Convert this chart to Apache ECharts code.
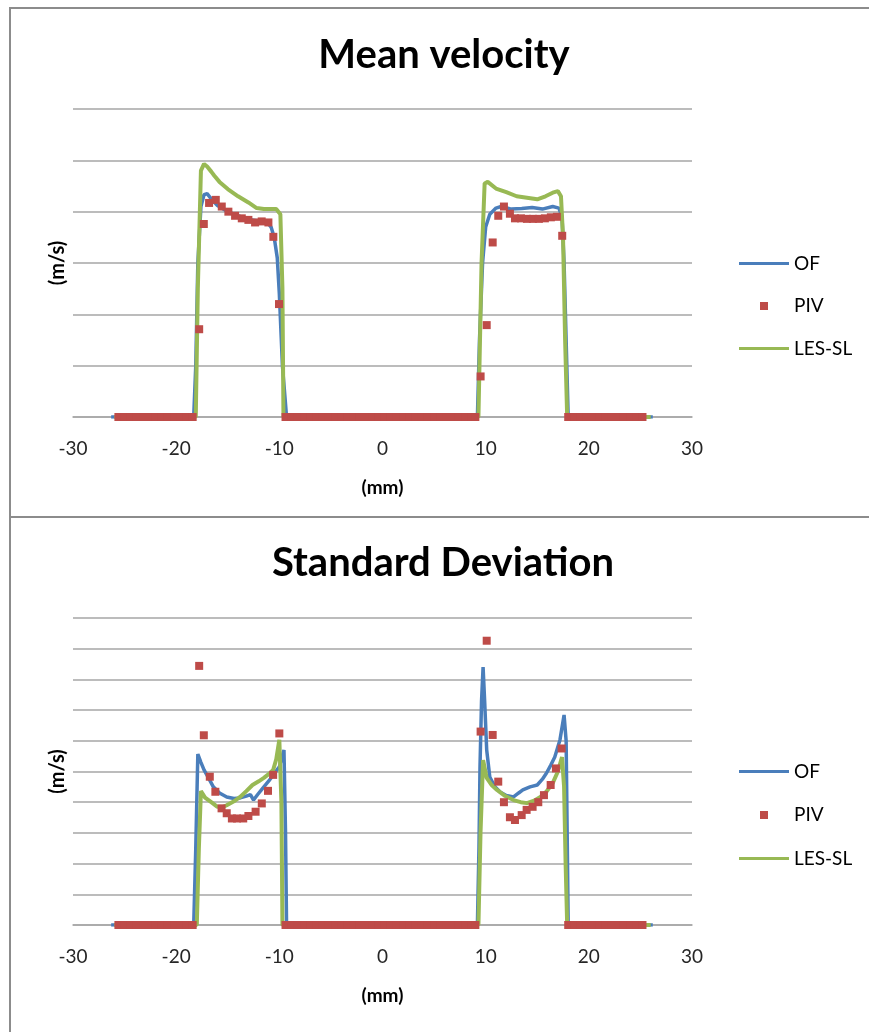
<!DOCTYPE html>
<html>
<head>
<meta charset="utf-8">
<script src="https://cdn.jsdelivr.net/npm/echarts@6/dist/echarts.min.js"></script>
<style>
html,body{margin:0;padding:0;background:#fff;}
#c{width:869px;height:1032px;}
</style>
</head>
<body>
<div id="c"></div>
<script>
// ---------- data ----------
const xTicks = [-30, -20, -10, 0, 10, 20, 30];
const titles = ['Mean velocity', 'Standard Deviation'];
const seriesNames = ['OF', 'PIV', 'LES-SL'];

// Mean velocity (units = gridline steps)
const ofMean = [[-26.3,0],[-18.3,0],[-18.1,1.0],[-17.9,3.0],[-17.6,4.1],[-17.3,4.33],[-17.0,4.35],[-16.6,4.25],[-16.0,4.12],[-15.0,4.0],[-14.0,3.92],[-13.0,3.85],[-12.0,3.82],[-11.2,3.8],[-10.8,3.7],[-10.5,3.5],[-10.2,3.1],[-10.0,2.4],[-9.7,1.0],[-9.3,0],[9.2,0],[9.4,1.5],[9.7,3.0],[10.0,3.7],[10.4,3.95],[11.0,4.07],[11.5,4.1],[12.5,4.05],[13.5,4.06],[14.5,4.08],[15.5,4.05],[16.5,4.1],[17.1,4.07],[17.4,3.9],[17.6,3.0],[17.8,1.5],[18.0,0],[26.2,0]];
const lesMean = [[-26,0],[-18.1,0],[-17.9,2.5],[-17.6,4.8],[-17.3,4.93],[-17.0,4.88],[-16.6,4.78],[-16.3,4.7],[-15.8,4.58],[-15.0,4.44],[-14.0,4.3],[-13.0,4.18],[-12.2,4.07],[-11.5,4.05],[-10.3,4.05],[-9.9,3.95],[-9.7,2.5],[-9.6,0],[9.3,0],[9.6,3.0],[9.9,4.55],[10.2,4.58],[11.0,4.45],[12.0,4.38],[13.0,4.3],[14.0,4.27],[15.0,4.24],[15.8,4.3],[16.5,4.37],[17.0,4.4],[17.3,4.3],[17.5,3.5],[17.7,1.5],[17.9,0],[26,0]];
const pivMean = [[-25.6,0],[-25.0,0],[-24.4,0],[-23.8,0],[-23.2,0],[-22.6,0],[-22.0,0],[-21.4,0],[-20.8,0],[-20.2,0],[-19.6,0],[-19.0,0],[-18.4,0],
[-17.77,1.71],[-17.32,3.76],[-16.81,4.17],[-16.16,4.23],[-15.58,4.10],[-14.94,4.0],[-14.29,3.92],[-13.64,3.87],[-13.0,3.84],[-12.35,3.79],[-11.71,3.81],[-11.06,3.79],[-10.58,3.51],[-10.03,2.20],
[-9.4,0],[-8.8,0],[-8.2,0],[-7.6,0],[-7.0,0],[-6.4,0],[-5.8,0],[-5.2,0],[-4.6,0],[-4.0,0],[-3.4,0],[-2.8,0],[-2.2,0],[-1.6,0],[-1.0,0],[-0.4,0],[0.2,0],[0.8,0],[1.4,0],[2.0,0],[2.6,0],[3.2,0],[3.8,0],[4.4,0],[5.0,0],[5.6,0],[6.2,0],[6.8,0],[7.4,0],[8.0,0],[8.6,0],[9.0,0],
[9.51,0.79],[10.1,1.79],[10.68,3.40],[11.22,3.92],[11.77,4.10],[12.35,3.96],[12.84,3.87],[13.42,3.87],[14.0,3.86],[14.58,3.86],[15.16,3.86],[15.74,3.87],[16.32,3.89],[16.9,3.9],[17.42,3.53],
[18.0,0],[18.6,0],[19.2,0],[19.8,0],[20.4,0],[21.0,0],[21.6,0],[22.2,0],[22.8,0],[23.4,0],[24.0,0],[24.6,0],[25.2,0]];

// Standard deviation (units = gridline steps)
const ofStd = [[-26.3,0],[-18.3,0],[-18.1,2.5],[-17.9,5.57],[-17.6,5.3],[-17.3,5.05],[-16.8,4.75],[-16.4,4.5],[-15.8,4.3],[-15.1,4.17],[-14.4,4.12],[-13.8,4.14],[-13.2,4.2],[-12.8,4.25],[-12.5,4.07],[-12.1,4.25],[-11.6,4.46],[-11.0,4.7],[-10.6,4.89],[-10.0,5.15],[-9.55,5.7],[-9.4,3.0],[-9.3,0],
[9.2,0],[9.35,2.5],[9.45,5.15],[9.6,7.3],[9.75,8.4],[9.9,7.3],[10.1,5.7],[10.4,4.82],[10.9,4.5],[11.4,4.33],[12.0,4.22],[12.7,4.17],[13.2,4.3],[13.6,4.4],[14.3,4.5],[15.0,4.56],[15.5,4.75],[15.9,4.95],[16.3,5.2],[16.7,5.47],[17.2,6.03],[17.6,6.84],[17.8,6.0],[17.9,3.0],[18.0,0],[26.2,0]];
const lesStd = [[-26,0],[-18.0,0],[-17.8,2.5],[-17.6,4.36],[-17.2,4.15],[-16.6,4.0],[-16.0,3.85],[-15.5,3.84],[-15.1,3.9],[-14.4,4.03],[-13.8,4.17],[-13.2,4.36],[-12.6,4.56],[-12.0,4.68],[-11.5,4.79],[-11.0,4.92],[-10.6,5.05],[-10.3,5.4],[-10.0,6.03],[-9.8,4.0],[-9.7,0],
[9.3,0],[9.5,3.0],[9.75,5.37],[10.1,4.79],[10.6,4.55],[11.1,4.4],[11.9,4.2],[12.7,4.07],[13.4,4.0],[14.0,3.97],[14.7,4.05],[15.3,4.17],[15.9,4.35],[16.5,4.62],[17.0,5.0],[17.4,5.47],[17.6,4.5],[17.75,2.0],[17.9,0],[26,0]];
const pivStd = [[-25.6,0],[-25.0,0],[-24.4,0],[-23.8,0],[-23.2,0],[-22.6,0],[-22.0,0],[-21.4,0],[-20.8,0],[-20.2,0],[-19.6,0],[-19.0,0],[-18.4,0],
[-17.77,8.44],[-17.32,6.18],[-16.74,4.83],[-16.2,4.34],[-15.6,3.80],[-15.1,3.64],[-14.6,3.47],[-14.1,3.47],[-13.5,3.47],[-13.0,3.55],[-12.3,3.69],[-11.7,3.96],[-11.1,4.37],[-10.6,4.89],[-10.0,6.24],
[-9.4,0],[-8.8,0],[-8.2,0],[-7.6,0],[-7.0,0],[-6.4,0],[-5.8,0],[-5.2,0],[-4.6,0],[-4.0,0],[-3.4,0],[-2.8,0],[-2.2,0],[-1.6,0],[-1.0,0],[-0.4,0],[0.2,0],[0.8,0],[1.4,0],[2.0,0],[2.6,0],[3.2,0],[3.8,0],[4.4,0],[5.0,0],[5.6,0],[6.2,0],[6.8,0],[7.4,0],[8.0,0],[8.6,0],[9.0,0],
[9.51,6.30],[10.1,9.26],[10.68,6.19],[11.22,4.67],[11.77,4.0],[12.35,3.51],[12.84,3.42],[13.49,3.58],[13.97,3.75],[14.55,3.85],[15.1,4.0],[15.65,4.23],[16.3,4.56],[16.81,5.1],[17.36,5.75],
[18.0,0],[18.6,0],[19.2,0],[19.8,0],[20.4,0],[21.0,0],[21.6,0],[22.2,0],[22.8,0],[23.4,0],[24.0,0],[24.6,0],[25.2,0]];

// ---------- style ----------
const BLUE = '#4A7EBB', RED = '#BE4B48', GREEN = '#98B954';
const GRID = '#A6A6A6';
const FONT = 'Lato, "Open Sans", sans-serif';

const chart = echarts.init(document.getElementById('c'), null, {renderer: 'canvas'});

function xAxisCfg(gi) {
  return {
    type: 'value', gridIndex: gi, min: xTicks[0], max: xTicks[xTicks.length-1], interval: 10,
    axisLine: {show: true, onZero: false, lineStyle: {color: GRID, width: 1.5}},
    axisTick: {show: false}, splitLine: {show: false},
    axisLabel: {color: '#262626', fontSize: 19, fontFamily: FONT, margin: 22},
    name: '(mm)', nameLocation: 'middle', nameGap: 61,
    nameTextStyle: {color: '#000', fontSize: 19, fontWeight: 'bold', fontFamily: FONT}
  };
}
function yAxisCfg(gi, max) {
  return {
    type: 'value', gridIndex: gi, min: 0, max: max, interval: 1,
    axisLine: {show: false}, axisTick: {show: false}, axisLabel: {show: false},
    splitLine: {show: true, lineStyle: {color: GRID, width: 1.5}},
    name: '(m/s)', nameLocation: 'middle', nameGap: 5, nameRotate: 90,
    nameTextStyle: {color: '#000', fontSize: 20, fontWeight: 'bold', fontFamily: FONT}
  };
}
function lineSeries(name, data, color, gi, w, z) {
  return {name: name, type: 'line', xAxisIndex: gi, yAxisIndex: gi, data: data,
    symbol: 'none', lineStyle: {color: color, width: w}, itemStyle: {color: color},
    z: z, animation: false, silent: true};
}
function pivSeries(data, gi) {
  return {name: 'PIV', type: 'scatter', xAxisIndex: gi, yAxisIndex: gi, data: data,
    symbol: 'rect', symbolSize: 8, itemStyle: {color: RED, opacity: 1}, z: 5, animation: false, silent: true};
}
const LINE_ICON = 'path://M0,0L0,0M50,14L50,14M0,5.5L50,5.5L50,8.5L0,8.5Z';
const SQUARE_ICON = 'path://M0,0L0,0M50,14L50,14M21,3L29,3L29,11L21,11Z';
function legendCfg(top, gap) {
  return {
    orient: 'vertical', left: 734, top: top, itemWidth: 50, itemHeight: 14, itemGap: gap,
    textStyle: {color: '#000', fontSize: 19, fontFamily: FONT},
    selectedMode: false,
    data: [
      {name: 'OF', icon: LINE_ICON, itemStyle: {color: BLUE}},
      {name: 'PIV', icon: SQUARE_ICON, itemStyle: {color: RED}},
      {name: 'LES-SL', icon: LINE_ICON, itemStyle: {color: GREEN}}
    ]
  };
}

chart.setOption({
  backgroundColor: '#fff',
  animation: false,
  title: [
    {text: titles[0], left: 439, top: 30, textAlign: 'center',
     textStyle: {fontSize: 40, fontWeight: 'bold', fontFamily: FONT, color: '#000'}},
    {text: titles[1], left: 438, top: 538, textAlign: 'center',
     textStyle: {fontSize: 40, fontWeight: 'bold', fontFamily: FONT, color: '#000'}}
  ],
  legend: [legendCfg(249, 23.5), legendCfg(757, 24.5)],
  grid: [
    {left: 73, top: 109, width: 619, height: 308},
    {left: 73, top: 618, width: 619, height: 307}
  ],
  xAxis: [xAxisCfg(0), xAxisCfg(1)],
  yAxis: [yAxisCfg(0, 6), yAxisCfg(1, 10)],
  series: [
    lineSeries('OF', ofMean, BLUE, 0, 3.5, 2),
    pivSeries(pivMean, 0),
    lineSeries('LES-SL', lesMean, GREEN, 0, 4, 3),
    lineSeries('OF', ofStd, BLUE, 1, 3.5, 2),
    pivSeries(pivStd, 1),
    lineSeries('LES-SL', lesStd, GREEN, 1, 4, 3)
  ],
  graphic: [
    {type: 'line', shape: {x1: 10, y1: 8, x2: 869, y2: 8}, style: {stroke: '#8C8C8C', lineWidth: 2}},
    {type: 'line', shape: {x1: 10, y1: 7, x2: 10, y2: 1032}, style: {stroke: '#8C8C8C', lineWidth: 2}},
    {type: 'line', shape: {x1: 10, y1: 517, x2: 869, y2: 517}, style: {stroke: '#8C8C8C', lineWidth: 2}}
  ]
});
</script>
</body>
</html>
